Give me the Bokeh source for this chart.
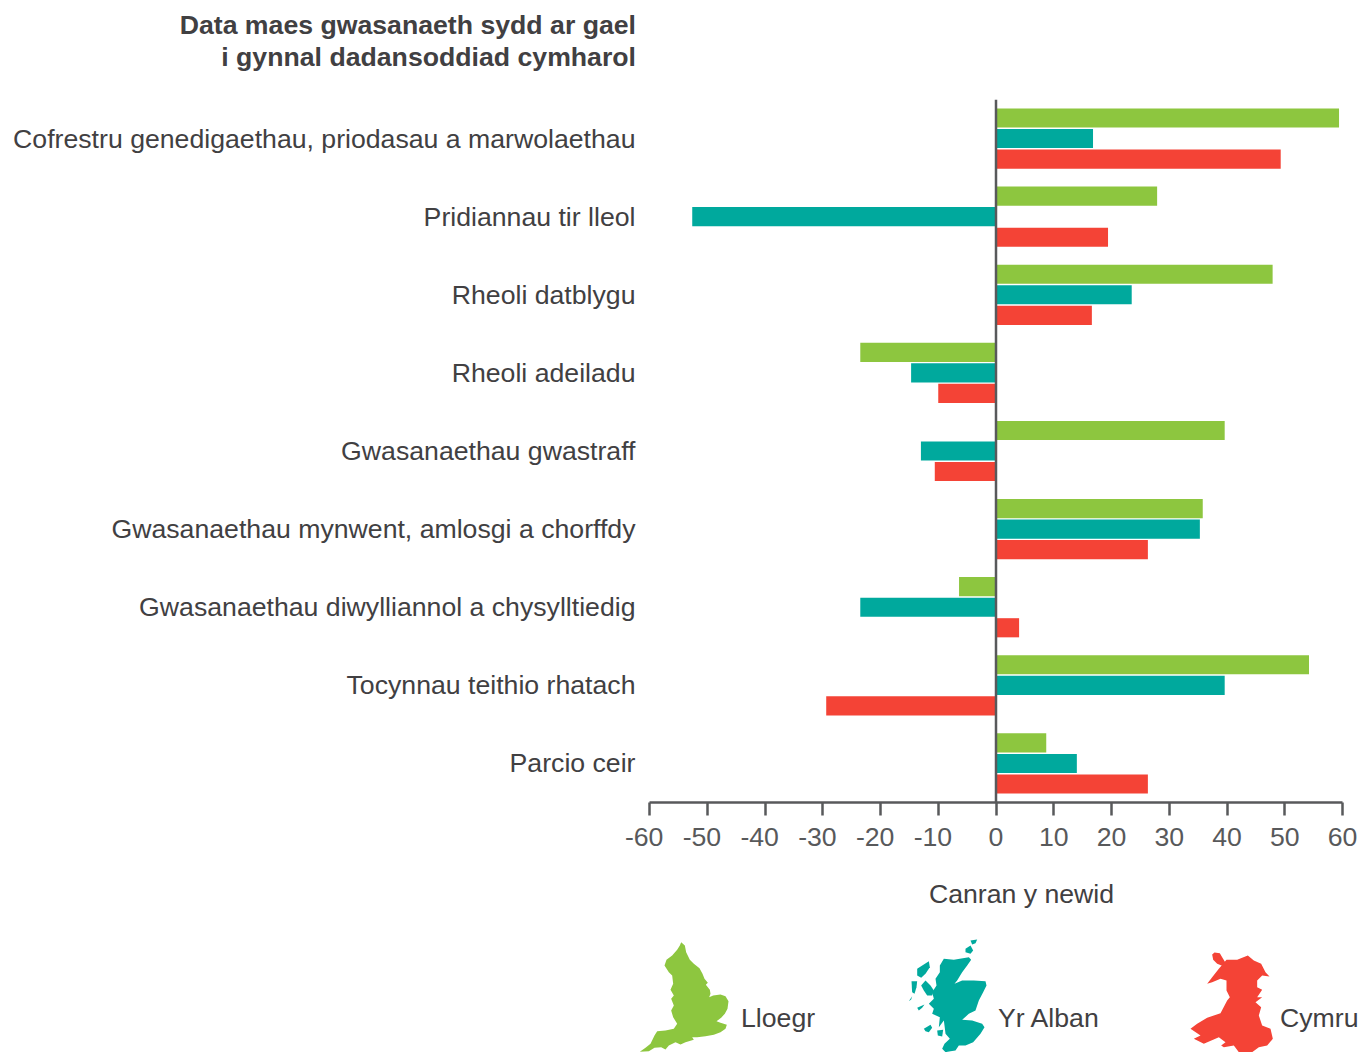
from bokeh.plotting import figure
from bokeh.embed import file_html
from bokeh.layouts import column
from bokeh.resources import INLINE
from bokeh.core.properties import value
from bokeh.models import ColumnDataSource, FactorRange, Range1d, FixedTicker, Span
from bokeh.transform import dodge

categories = [
    "Cofrestru genedigaethau, priodasau a marwolaethau",
    "Pridiannau tir lleol",
    "Rheoli datblygu",
    "Rheoli adeiladu",
    "Gwasanaethau gwastraff",
    "Gwasanaethau mynwent, amlosgi a chorffdy",
    "Gwasanaethau diwylliannol a chysylltiedig",
    "Tocynnau teithio rhatach",
    "Parcio ceir",
]
lloegr = [59.4, 27.9, 47.9, -23.5, 39.6, 35.8, -6.4, 54.2, 8.7]
yr_alban = [16.8, -52.6, 23.5, -14.7, -13.0, 35.3, -23.5, 39.6, 14.0]
cymru = [49.3, 19.4, 16.6, -10.0, -10.6, 26.3, 4.0, -29.4, 26.3]
x_ticks = list(range(-60, 61, 10))
title_lines = ["Data maes gwasanaeth sydd ar gael", "i gynnal dadansoddiad cymharol"]
x_title = "Canran y newid"

GREEN, TEAL, RED = "#8dc63f", "#00a99d", "#f44336"
TEXT, AXIS = "#414042", "#58595b"
FONT = "Liberation Sans"
SIZE = "26.67px"

# Map silhouettes (x, y in a 3x crop of the legend area)
ENGLAND = [[(152,35),(163,45),(167,65),(178,88),(190,100),(207,113),(216,130),(222,145),(232,157),(226,163),(238,178),(240,190),(236,200),(248,195),(270,192),(285,197),(294,212),(291,235),(283,250),(272,262),(258,272),(270,277),(289,283),(285,295),(270,305),(250,313),(225,317),(200,320),(185,320),(190,328),(165,335),(150,342),(135,335),(115,345),(105,357),(92,350),(72,352),(55,362),(28,364),(45,352),(60,340),(72,315),(80,302),(105,300),(130,295),(140,280),(128,260),(122,240),(130,225),(122,205),(130,195),(120,178),(128,160),(125,135),(115,125),(102,105),(108,88),(125,75),(140,58),(148,45)]]
SCOTLAND = [
    [(130,85),(160,88),(205,80),(212,88),(200,105),(185,125),(170,150),(162,160),(185,150),(220,150),(255,152),(258,165),(248,185),(235,210),(225,240),(205,250),(185,268),(215,270),(245,280),(252,290),(240,310),(218,335),(195,345),(175,345),(165,360),(150,362),(135,365),(125,355),(132,340),(148,325),(135,310),(132,285),(130,270),(115,290),(118,260),(95,250),(100,235),(85,220),(100,205),(95,185),(108,165),(105,145),(118,125),(118,105)],
    [(62,165),(75,150),(90,165),(100,180),(95,195),(80,195),(70,180)],
    [(50,115),(85,92),(88,110),(75,130),(62,142),(50,135)],
    [(33,152),(50,152),(48,170),(42,190),(35,185)],
    [(70,295),(90,283),(95,292),(85,305),(75,302)],
    [(110,300),(128,298),(125,318),(112,315)],
    [(195,55),(210,45),(218,60),(210,70),(195,65)],
    [(210,30),(230,27),(225,38),(215,42)],
    [(50,232),(72,222),(65,232),(55,240)],
    [(25,212),(35,197),(32,207)],
]
WALES = [
    [(125,72),(132,66),(148,68),(155,80),(165,97),(155,106),(140,100),(128,88)],
    [(168,88),(200,88),(232,75),(250,90),(272,100),(285,125),(297,138),(275,135),(260,150),(260,170),(275,178),(260,200),(275,200),(255,215),(272,230),(265,255),(275,285),(300,295),(307,325),(290,345),(265,350),(245,365),(205,365),(190,345),(160,350),(152,345),(165,335),(145,320),(100,340),(70,325),(90,315),(60,295),(80,280),(110,262),(150,248),(170,210),(178,200),(168,180),(168,150),(150,145),(125,155),(110,160),(125,140),(145,115)],
]

W = 1358
TOP_H, MAIN_H, BOTTOM_H = 90, 770, 192


def blank(y0, y1):
    """A borderless figure whose data coordinates are the picture's pixels."""
    f = figure(width=W, height=y1 - y0, output_backend="svg", toolbar_location=None,
               x_range=Range1d(0, W), y_range=Range1d(y1, y0), frame_align=False,
               min_border=0, min_border_left=0, min_border_right=0, min_border_top=0, min_border_bottom=0,
               outline_line_color=None, background_fill_color="white", border_fill_color="white")
    f.axis.visible = False
    f.grid.visible = False
    return f


def label(f, x, y, s, align="left", style="normal"):
    f.text(x=[x], y=[y], text=[s], text_font=value(FONT), text_font_size=value(SIZE),
           text_align=align, text_baseline="middle", text_font_style=style, text_color=TEXT)


def silhouette(f, polys, ox, oy, color):
    f.patches(xs=[[ox + a / 3 for a, _ in poly] for poly in polys],
              ys=[[oy + b / 3 for _, b in poly] for poly in polys],
              fill_color=color, line_color=None)


# Title band
top = blank(0, TOP_H)
label(top, 635.5, 24, title_lines[0], align="right", style="bold")
label(top, 635.5, 56, title_lines[1], align="right", style="bold")

# Main chart
p = figure(width=W, height=MAIN_H, output_backend="svg", toolbar_location=None,
           x_range=Range1d(-60, 60), y_range=FactorRange(factors=categories[::-1], range_padding=0),
           min_border_left=649, min_border_right=16, min_border_top=9, min_border_bottom=58,
           frame_align=False,
           outline_line_color=None, background_fill_color="white", border_fill_color="white")
p.grid.visible = False

src = ColumnDataSource(dict(cat=categories, lloegr=lloegr, yr_alban=yr_alban, cymru=cymru))
BAR = 0.245
for col, colr, off in (("lloegr", GREEN, 0.263), ("yr_alban", TEAL, 0.0), ("cymru", RED, -0.263)):
    p.hbar(y=dodge("cat", off, range=p.y_range), left=0, right=col, height=BAR, source=src,
           fill_color=colr, line_color=None)

p.add_layout(Span(location=0, dimension="height", line_color=AXIS, line_width=2.5))

xa = p.xaxis[0]
xa.ticker = FixedTicker(ticks=x_ticks)
# negative labels sit a little left of their ticks in the reference
xa.major_label_overrides = {t: (str(t) + "\u2009\u2009" if t < 0 else str(t)) for t in x_ticks}
xa.axis_line_color = AXIS
xa.axis_line_width = 2.5
xa.major_tick_line_color = AXIS
xa.major_tick_line_width = 2.5
xa.major_tick_out = 13
xa.major_tick_in = 0
xa.minor_tick_line_color = None
xa.major_label_text_font = FONT
xa.major_label_text_font_size = SIZE
xa.major_label_text_color = AXIS
xa.major_label_standoff = 6

ya = p.yaxis[0]
ya.axis_line_color = None
ya.major_tick_line_color = None
ya.minor_tick_line_color = None
ya.major_tick_out = 0
ya.major_tick_in = 0
ya.major_label_standoff = 14
ya.major_label_text_font = FONT
ya.major_label_text_font_size = SIZE
ya.major_label_text_color = TEXT

# Axis title and map legend
bottom = blank(TOP_H + MAIN_H, TOP_H + MAIN_H + BOTTOM_H)
label(bottom, 1021, 893, x_title, align="center")
silhouette(bottom, ENGLAND, 630, 930, GREEN)
silhouette(bottom, SCOTLAND, 900, 930, TEAL)
silhouette(bottom, WALES, 1170, 930, RED)
label(bottom, 740.5, 1017, "Lloegr")
label(bottom, 997.5, 1017, "Yr Alban")
label(bottom, 1279.5, 1017, "Cymru")

open("out.html", "w").write(file_html(column(top, p, bottom, spacing=0), INLINE))
